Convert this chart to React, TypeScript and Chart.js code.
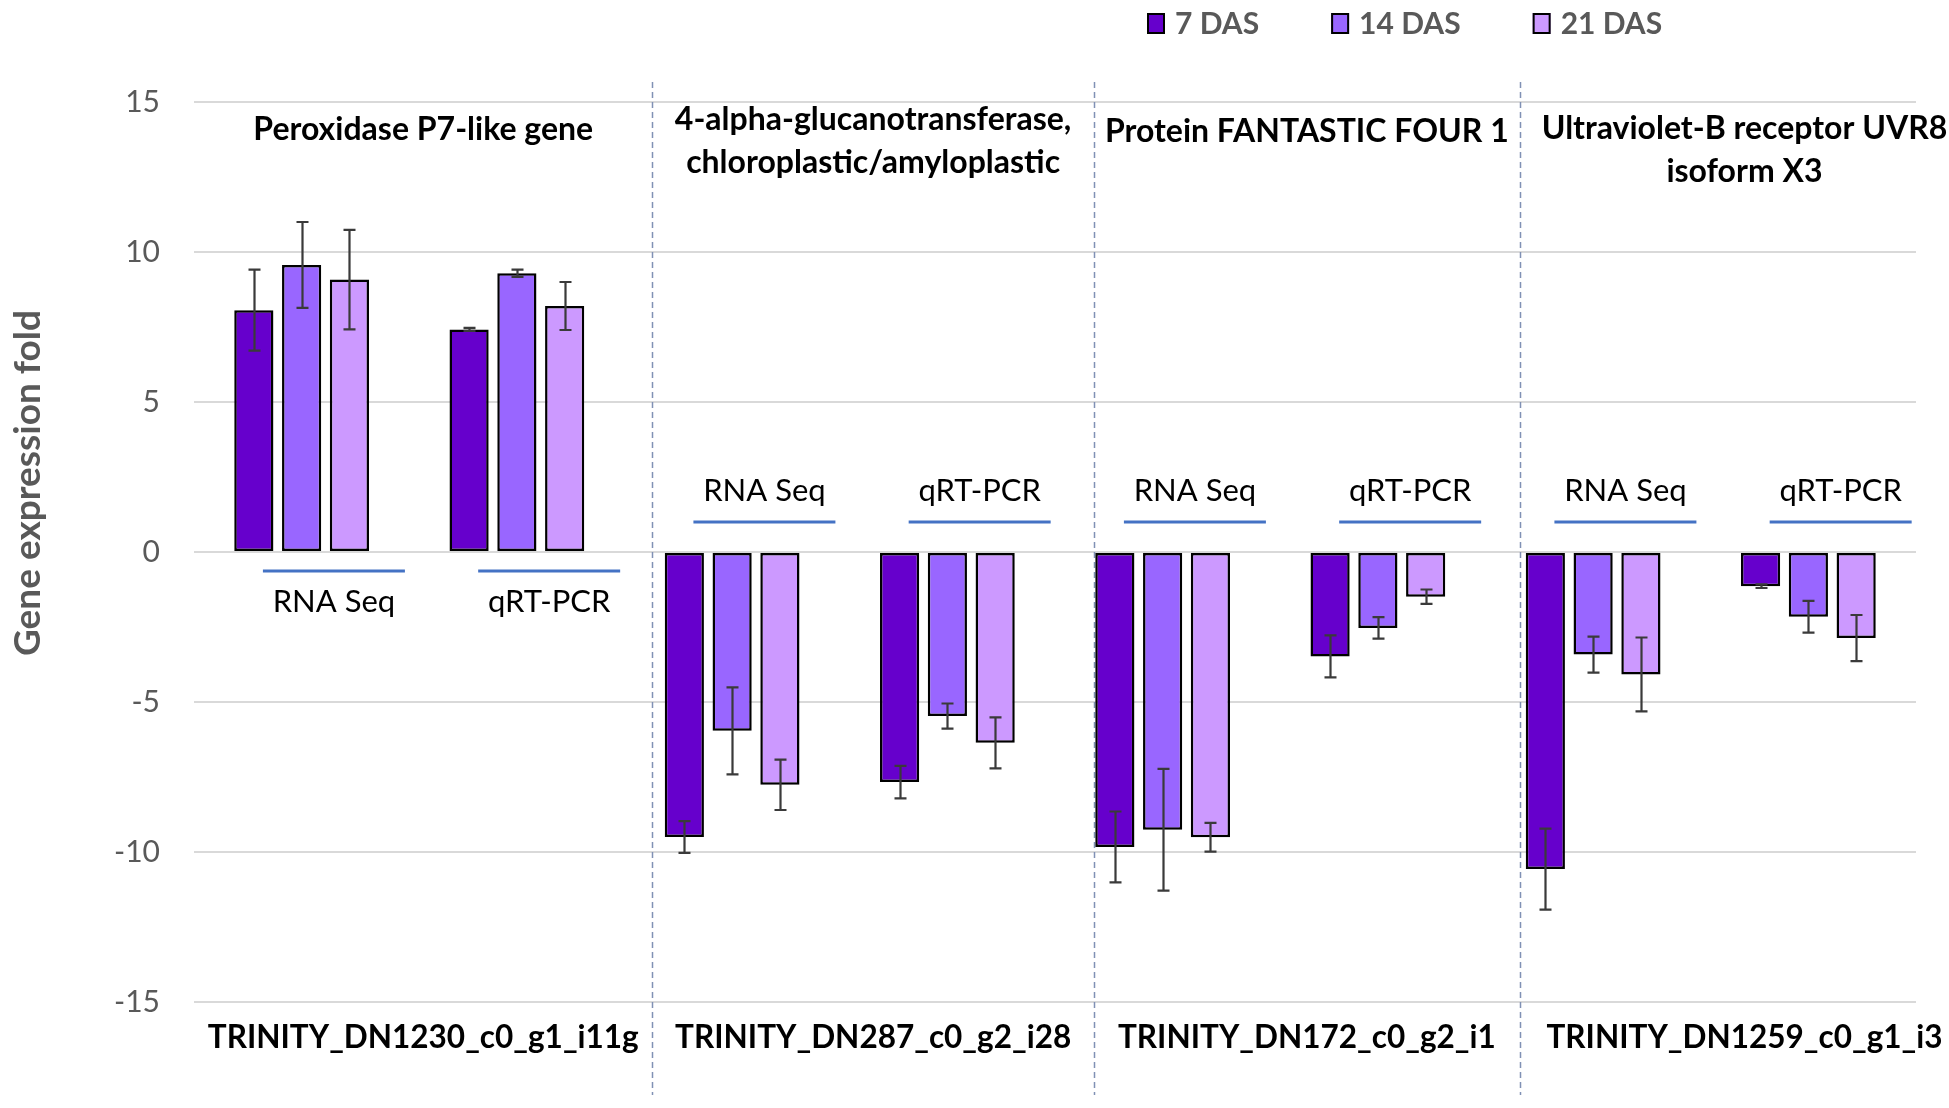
import React, { useEffect, useRef } from "react";
import { Chart, registerables } from "chart.js";

Chart.register(...registerables);

// genes (one per panel) and the two methods measured for each
const genes = [
  "TRINITY_DN1230_c0_g1_i11g",
  "TRINITY_DN287_c0_g2_i28",
  "TRINITY_DN172_c0_g2_i1",
  "TRINITY_DN1259_c0_g1_i3",
];
const geneTitles = [
  ["Peroxidase P7-like gene"],
  ["4-alpha-glucanotransferase,", "chloroplastic/amyloplastic"],
  ["Protein FANTASTIC FOUR 1"],
  ["Ultraviolet-B receptor UVR8", "isoform X3"],
];
const methods = ["RNA Seq", "qRT-PCR"];
const categories = genes.flatMap((g) => methods.map((m) => `${g} ${m}`));

const seriesNames = ["7 DAS", "14 DAS", "21 DAS"];
const seriesColors = ["#6600CC", "#9966FF", "#CC99FF"];

// fold change per category (gene x method), with error bar half-widths
const das7 = [8.06, 7.42, -9.5, -7.67, -9.83, -3.48, -10.57, -1.14];
const das7Err = [1.35, 0.05, 0.53, 0.54, 1.18, 0.7, 1.35, 0.06];
const das14 = [9.57, 9.29, -5.96, -5.47, -9.26, -2.53, -3.42, -2.16];
const das14Err = [1.43, 0.12, 1.45, 0.42, 2.03, 0.36, 0.6, 0.53];
const das21 = [9.08, 8.2, -7.76, -6.36, -9.51, -1.49, -4.08, -2.87];
const das21Err = [1.66, 0.8, 0.84, 0.85, 0.48, 0.24, 1.23, 0.77];

const yTicks = [-15, -10, -5, 0, 5, 10, 15];

const seriesValues = [das7, das14, das21];
const seriesErrors = [das7Err, das14Err, das21Err];

// dashed panel dividers, in category units
const dividers = [1.63, 3.68, 5.66];
// offset of each panel title's first line below the top of the plot
const titleOffsets = [28, 18, 30, 27];

const FONT = "Lato, 'Open Sans', sans-serif";
const GREY = "#595959";

const overlay = {
  id: "overlay",
  beforeDatasetsDraw(chart: any) {
    const { ctx, chartArea, scales } = chart;
    const x = scales.x;
    const y = scales.y;
    ctx.save();

    // panel dividers
    ctx.strokeStyle = "#8091B5";
    ctx.lineWidth = 1.5;
    ctx.setLineDash([6, 4]);
    dividers.forEach((v) => {
      const px = Math.round(x.getPixelForValue(v)) + 0.5;
      ctx.beginPath();
      ctx.moveTo(px, chartArea.top - 20);
      ctx.lineTo(px, chartArea.bottom + 93);
      ctx.stroke();
    });
    ctx.setLineDash([]);

    // method labels with the blue underline
    const zero = y.getPixelForValue(0);
    ctx.font = `400 31px ${FONT}`;
    ctx.fillStyle = "#000";
    ctx.textAlign = "center";
    ctx.textBaseline = "middle";
    categories.forEach((_, i) => {
      const cx = x.getPixelForValue(i + 0.15);
      const up = das7[i] < 0;
      const lineY = up ? zero - 30 : zero + 19;
      const textY = up ? zero - 61 : zero + 50;
      ctx.strokeStyle = "#4472C4";
      ctx.lineWidth = 3;
      ctx.beginPath();
      ctx.moveTo(cx - 71, lineY);
      ctx.lineTo(cx + 71, lineY);
      ctx.stroke();
      ctx.fillText(methods[i % 2], cx, textY);
    });
    ctx.restore();
  },
  afterDatasetsDraw(chart: any) {
    const { ctx, scales } = chart;
    const y = scales.y;
    ctx.save();
    ctx.strokeStyle = "#3A3A3A";
    ctx.lineWidth = 2.2;
    seriesErrors.forEach((errs, d) => {
      const meta = chart.getDatasetMeta(d);
      meta.data.forEach((bar: any, i: number) => {
        const v = seriesValues[d][i];
        const top = y.getPixelForValue(v + errs[i]);
        const bot = y.getPixelForValue(v - errs[i]);
        const bx = Math.round(bar.x) + 0.5;
        ctx.beginPath();
        ctx.moveTo(bx, top);
        ctx.lineTo(bx, bot);
        ctx.moveTo(bx - 6, top);
        ctx.lineTo(bx + 6, top);
        ctx.moveTo(bx - 6, bot);
        ctx.lineTo(bx + 6, bot);
        ctx.stroke();
      });
    });
    ctx.restore();
  },
  afterDraw(chart: any) {
    const { ctx, chartArea, scales, width } = chart;
    const x = scales.x;
    ctx.save();
    ctx.textAlign = "center";
    ctx.textBaseline = "middle";
    ctx.fillStyle = "#000";

    // panel titles and gene ids, centred between the dividers
    genes.forEach((gene, g) => {
      const left = g === 0 ? chartArea.left : x.getPixelForValue(dividers[g - 1]);
      const right = g === genes.length - 1 ? width + 20 : x.getPixelForValue(dividers[g]);
      const cx = (left + right) / 2;
      ctx.font = `700 32px ${FONT}`;
      geneTitles[g].forEach((line, k) => {
        ctx.fillText(line, cx, chartArea.top + titleOffsets[g] + k * 43);
      });
      ctx.font = `700 31.5px ${FONT}`;
      ctx.fillText(gene, cx, chartArea.bottom + 36);
    });

    // y axis title
    ctx.save();
    ctx.translate(28, 483);
    ctx.rotate(-Math.PI / 2);
    ctx.font = `700 37px ${FONT}`;
    ctx.fillStyle = GREY;
    ctx.fillText("Gene expression fold", 0, 0);
    ctx.restore();

    // legend
    let lx = 1147;
    ctx.font = `700 30px ${FONT}`;
    ctx.textAlign = "left";
    seriesNames.forEach((name, i) => {
      ctx.fillStyle = seriesColors[i];
      ctx.fillRect(lx, 13, 18, 21);
      ctx.strokeStyle = "#000";
      ctx.lineWidth = 2;
      ctx.strokeRect(lx + 1, 14, 16, 19);
      ctx.fillStyle = GREY;
      ctx.fillText(name, lx + 28, 24);
      lx += 28 + ctx.measureText(name).width + 72;
    });
    ctx.restore();
  },
};

export default function App() {
  const canvasRef = useRef<HTMLCanvasElement | null>(null);

  useEffect(() => {
    if (!canvasRef.current) return;
    const chart = new Chart(canvasRef.current, {
      type: "bar",
      data: {
        labels: categories,
        datasets: seriesNames.map((name, i) => ({
          label: name,
          data: seriesValues[i],
          backgroundColor: seriesColors[i],
          borderColor: "#000",
          borderWidth: 2.5,
          borderSkipped: false,
          categoryPercentage: 0.666,
          barPercentage: 0.82,
        })),
      },
      options: {
        responsive: false,
        animation: false,
        layout: { padding: { left: 0, right: 33, top: 102, bottom: 106 } },
        scales: {
          x: { display: false },
          y: {
            min: -15,
            max: 15,
            afterFit: (axis: any) => {
              axis.width = 194;
            },
            afterBuildTicks: (axis: any) => {
              axis.ticks = yTicks.map((v) => ({ value: v }));
            },
            ticks: {
              padding: 34,
              color: GREY,
              font: { family: FONT, size: 30 },
            },
            grid: { color: "#D9D9D9", lineWidth: 2, drawTicks: false },
            border: { display: false },
          },
        },
        plugins: {
          legend: { display: false },
          tooltip: { enabled: false },
        },
      },
      plugins: [overlay],
    });
    return () => chart.destroy();
  }, []);

  return (
    <div style={{ position: "absolute", left: 0, top: 0, width: 1949, height: 1108, background: "#fff" }}>
      <canvas ref={canvasRef} width={1949} height={1108} />
    </div>
  );
}
